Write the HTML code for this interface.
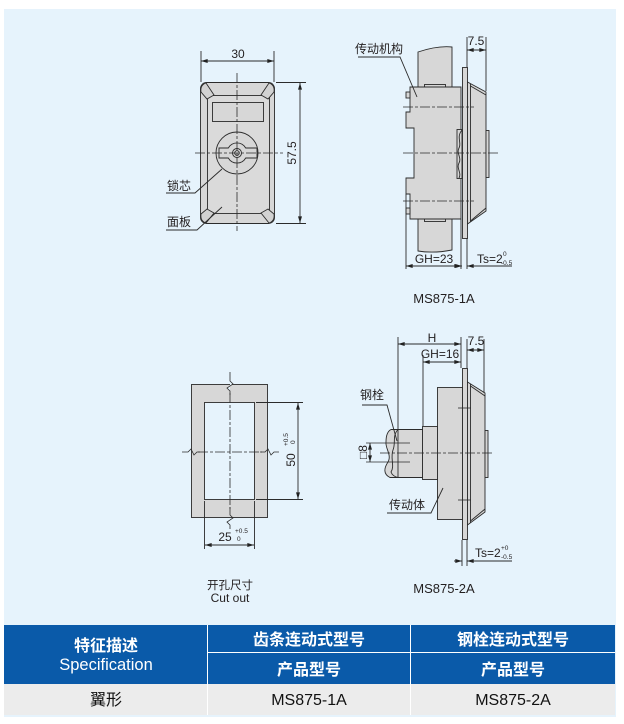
<!DOCTYPE html>
<html><head><meta charset="utf-8"><style>
html,body{margin:0;padding:0;background:#fff;}
svg{display:block;}
text{font-family:"Liberation Sans","Noto Sans CJK SC",sans-serif;fill:#231f20;}
</style></head><body>
<svg width="624" height="724" viewBox="0 0 624 724" xmlns="http://www.w3.org/2000/svg">
<defs>
<marker id="a" viewBox="0 0 10 6" refX="10" refY="3" markerWidth="7" markerHeight="4" orient="auto-start-reverse" markerUnits="userSpaceOnUse"><path d="M0,0 L10,3 L0,6 Z" fill="#222"/></marker>
</defs>
<rect x="4" y="9" width="612" height="708" fill="#e6f3fc"/>

<g stroke="#2b2b2b" stroke-width="0.9" fill="none">
<!-- ============ TOP LEFT: front view ============ -->
<line x1="201" y1="51" x2="201" y2="82"/>
<line x1="274" y1="51" x2="274" y2="82"/>
<line x1="201" y1="61" x2="274" y2="61" marker-start="url(#a)" marker-end="url(#a)"/>
<rect x="200.5" y="82.5" width="74" height="141" rx="6" fill="#d7d7d7"/>
<rect x="207.5" y="95.5" width="62" height="118" fill="#dadada"/>
<path d="M201,92 Q200,85 206,83 L214,95 L207,99 Z" fill="#d2d2d2"/>
<path d="M274,92 Q275,85 269,83 L261,95 L268,99 Z" fill="#d2d2d2"/>
<path d="M201,214 Q200,221 206,223 L214,213 L207,209 Z" fill="#d2d2d2"/>
<path d="M274,214 Q275,221 269,223 L261,213 L268,209 Z" fill="#d2d2d2"/>
<rect x="212.5" y="102.5" width="51" height="19" fill="#d7d7d7"/>
<circle cx="237" cy="153" r="21" fill="#d7d7d7"/>
<path d="M219,148 H228.3 A10,10 0 0 1 245.7,148 H257 V158 H245.7 A10,10 0 0 1 228.3,158 H219 Z" fill="#d7d7d7"/>
<circle cx="237" cy="153" r="4.5"/>
<circle cx="237" cy="153" r="2.3"/>
<line x1="237" y1="73" x2="237" y2="231" stroke-dasharray="10 2 3 2" stroke-width="0.8"/>
<line x1="195" y1="153" x2="283" y2="153" stroke-dasharray="10 2 3 2" stroke-width="0.8"/>
<line x1="276" y1="82.5" x2="306" y2="82.5"/>
<line x1="276" y1="223.5" x2="306" y2="223.5"/>
<line x1="300" y1="83" x2="300" y2="223" marker-start="url(#a)" marker-end="url(#a)"/>
<polyline points="166,193 195,193 222,169"/>
<polyline points="166,230 197,230 222,207"/>

<!-- ============ TOP RIGHT: MS875-1A ============ -->
<path d="M418,52 C430,48 442,46 452,47 V250 C442,252 430,253 418,251 Z" fill="#d7d7d7"/>
<rect x="424.5" y="84.5" width="21" height="3" fill="#d7d7d7"/>
<rect x="424.5" y="218.5" width="21" height="3" fill="#d7d7d7"/>
<path d="M410,87 H461 V219 H410 V194 H406 V178 H414 V128 H406 V112 H410 Z" fill="#d7d7d7"/>
<rect x="406" y="92" width="4" height="6" fill="#d7d7d7"/>
<rect x="406" y="208" width="4" height="6" fill="#d7d7d7"/>
<rect x="462.5" y="67.5" width="5" height="171" fill="#d7d7d7"/>
<polygon points="467.5,82 486,92 486,211 467.5,224" fill="#d7d7d7"/>
<line x1="470.5" y1="84" x2="470.5" y2="222"/>
<line x1="470.5" y1="86" x2="486" y2="95"/>
<line x1="470.5" y1="221" x2="486" y2="208"/>
<rect x="486" y="130.5" width="3" height="47" fill="#d7d7d7"/>
<rect x="457" y="129.5" width="5" height="49" fill="#d7d7d7"/>
<path d="M462,130 C456,137 462,143 459,148 C456,153 462,158 459,163 C456,168 462,173 459,178"/>
<line x1="403" y1="153" x2="498" y2="153" stroke-dasharray="10 2 3 2" stroke-width="0.8"/>
<line x1="403" y1="107" x2="474" y2="107" stroke-dasharray="10 2 3 2" stroke-width="0.8"/>
<line x1="403" y1="201" x2="474" y2="201" stroke-dasharray="10 2 3 2" stroke-width="0.8"/>
<polyline points="358,57 400,57 417,97"/>
<line x1="467" y1="37" x2="467" y2="67"/>
<line x1="486" y1="37" x2="486" y2="91"/>
<line x1="467" y1="50" x2="486" y2="50" marker-start="url(#a)" marker-end="url(#a)"/>
<line x1="406" y1="194" x2="406" y2="269"/>
<line x1="461" y1="219" x2="461" y2="269"/>
<line x1="467" y1="238" x2="467" y2="269"/>
<line x1="406" y1="266" x2="461" y2="266" marker-start="url(#a)" marker-end="url(#a)"/>
<line x1="454" y1="266" x2="462" y2="266" marker-end="url(#a)"/>
<line x1="512" y1="266" x2="467" y2="266" marker-end="url(#a)"/>

<!-- ============ BOTTOM LEFT: cut out ============ -->
<rect x="191.5" y="384.5" width="76" height="133" fill="#d7d7d7"/>
<rect x="204.5" y="402.5" width="50" height="97" fill="#e6f3fc"/>
<line x1="230" y1="393" x2="230" y2="509" stroke-dasharray="10 2 3 2" stroke-width="0.8"/>
<path d="M230,372 V381 L233,384 L227,388 L230,391 V395" fill="#e6f3fc" stroke-width="0.8"/>
<path d="M230,507 V515 L233,518 L227,522 L230,525 V529" stroke-width="0.8"/>
<line x1="198" y1="452" x2="262" y2="452" stroke-dasharray="10 2 3 2" stroke-width="0.8"/>
<path d="M182,452 H188 L191,449 L194,455 L197,452 H200" stroke-width="0.8"/>
<path d="M260,452 H265 L268,449 L271,455 L274,452 H279" stroke-width="0.8"/>
<line x1="256" y1="402.5" x2="303" y2="402.5"/>
<line x1="256" y1="499.5" x2="303" y2="499.5"/>
<line x1="298" y1="403" x2="298" y2="499" marker-start="url(#a)" marker-end="url(#a)"/>
<line x1="204.5" y1="501" x2="204.5" y2="549"/>
<line x1="254.5" y1="501" x2="254.5" y2="549"/>
<line x1="205" y1="545" x2="254" y2="545" marker-start="url(#a)" marker-end="url(#a)"/>

<!-- ============ BOTTOM RIGHT: MS875-2A ============ -->
<rect x="462.5" y="368.5" width="5" height="171" fill="#d7d7d7"/>
<polygon points="467.5,382 485,393 485,512 467.5,525" fill="#d7d7d7"/>
<line x1="470.5" y1="384" x2="470.5" y2="523"/>
<line x1="470.5" y1="386" x2="485" y2="396"/>
<line x1="470.5" y1="521" x2="485" y2="509"/>
<rect x="485" y="430.5" width="3" height="47" fill="#d7d7d7"/>
<rect x="437.5" y="387.5" width="25" height="132" fill="#d7d7d7"/>
<rect x="422.5" y="426.5" width="15" height="53" fill="#d7d7d7"/>
<path d="M391,429.5 H422.5 V477.5 H390 C383,474 384,468 388,462 C392,455 385,448 386,442 C386,435 388,431 391,429.5 Z" fill="#d7d7d7"/>
<path d="M398,429.5 C392,436 396,443 393,450 C390,458 395,466 391,472 C392,475 395,477 398,477.5" />
<line x1="398" y1="430" x2="398" y2="477"/>
<line x1="380" y1="453" x2="494" y2="453" stroke-dasharray="10 2 3 2" stroke-width="0.8"/>
<line x1="458" y1="408" x2="471" y2="408" stroke-width="0.8"/>
<line x1="458" y1="500" x2="471" y2="500" stroke-width="0.8"/>
<line x1="398" y1="337" x2="398" y2="430"/>
<line x1="423" y1="355" x2="423" y2="426"/>
<line x1="461" y1="337" x2="461" y2="368"/>
<line x1="398" y1="344" x2="461" y2="344" marker-start="url(#a)" marker-end="url(#a)"/>
<line x1="423" y1="362" x2="461" y2="362" marker-start="url(#a)" marker-end="url(#a)"/>
<line x1="467" y1="339" x2="467" y2="368"/>
<line x1="484" y1="339" x2="484" y2="393"/>
<line x1="467" y1="350" x2="484" y2="350" marker-start="url(#a)" marker-end="url(#a)"/>
<line x1="366" y1="443" x2="410" y2="443" stroke-width="0.8"/>
<line x1="366" y1="462" x2="410" y2="462" stroke-width="0.8"/>
<line x1="370" y1="443" x2="370" y2="462" marker-start="url(#a)" marker-end="url(#a)"/>
<polyline points="362,405 387,405 397,441"/>
<polyline points="387,513 431,513 443,488"/>
<line x1="462" y1="540" x2="462" y2="566"/>
<line x1="467" y1="540" x2="467" y2="566"/>
<line x1="454" y1="561" x2="462" y2="561" marker-end="url(#a)"/>
<line x1="512" y1="561" x2="467" y2="561" marker-end="url(#a)"/>
</g>

<!-- drawing labels -->
<g font-size="12">
<text x="238" y="58" text-anchor="middle">30</text>
<text transform="translate(296,153) rotate(-90)" text-anchor="middle">57.5</text>
<text x="167" y="190">锁芯</text>
<text x="167" y="226">面板</text>
<text x="355" y="53">传动机构</text>
<text x="476" y="45" text-anchor="middle">7.5</text>
<text x="434" y="263" text-anchor="middle">GH=23</text>
<text x="477" y="263">Ts=2</text>
<text x="432" y="342" text-anchor="middle">H</text>
<text x="440" y="358" text-anchor="middle">GH=16</text>
<text x="476" y="345" text-anchor="middle">7.5</text>
<text x="360" y="399">钢栓</text>
<text x="389" y="509">传动体</text>
<text x="475" y="557">Ts=2</text>
<text transform="translate(367,452) rotate(-90)" text-anchor="middle">□8</text>
<text transform="translate(295,460) rotate(-90)" text-anchor="middle">50</text>
<text x="225" y="541" text-anchor="middle">25</text>
</g>
<g font-size="6.5">
<text x="503" y="256">0</text>
<text x="501" y="265">-0.5</text>
<text x="501" y="550">+0</text>
<text x="501" y="559">-0.5</text>
<text x="235" y="533">+0.5</text>
<text x="237" y="541">0</text>
<text transform="translate(288,446) rotate(-90)">+0.5</text>
<text transform="translate(295,444) rotate(-90)">0</text>
</g>
<text x="444" y="303" font-size="13" text-anchor="middle">MS875-1A</text>
<text x="444" y="593" font-size="13" text-anchor="middle">MS875-2A</text>
<text x="230" y="589" font-size="11.5" text-anchor="middle">开孔尺寸</text>
<text x="230" y="602" font-size="12" text-anchor="middle">Cut out</text>

<!-- ============ TABLE ============ -->
<rect x="4" y="625" width="611" height="59" fill="#0a5aa9"/>
<rect x="4" y="684" width="611" height="31" fill="#ececec"/>
<line x1="207.5" y1="625" x2="207.5" y2="715" stroke="#fff" stroke-width="1"/>
<line x1="410.5" y1="625" x2="410.5" y2="715" stroke="#fff" stroke-width="1"/>
<line x1="208" y1="652.5" x2="615" y2="652.5" stroke="#fff" stroke-width="1"/>
<g font-size="16" text-anchor="middle">
<text x="106" y="651" style="fill:#fff" font-weight="bold">特征描述</text>
<text x="106" y="670" style="fill:#fff" font-size="16.5">Specification</text>
<text x="309" y="645" style="fill:#fff" font-weight="bold">齿条连动式型号</text>
<text x="513" y="645" style="fill:#fff" font-weight="bold">钢栓连动式型号</text>
<text x="309" y="675" style="fill:#fff" font-weight="bold">产品型号</text>
<text x="513" y="675" style="fill:#fff" font-weight="bold">产品型号</text>
<text x="106" y="705" style="fill:#111">翼形</text>
<text x="309" y="705" style="fill:#111">MS875-1A</text>
<text x="513" y="705" style="fill:#111">MS875-2A</text>
</g>
</svg>
</body></html>
